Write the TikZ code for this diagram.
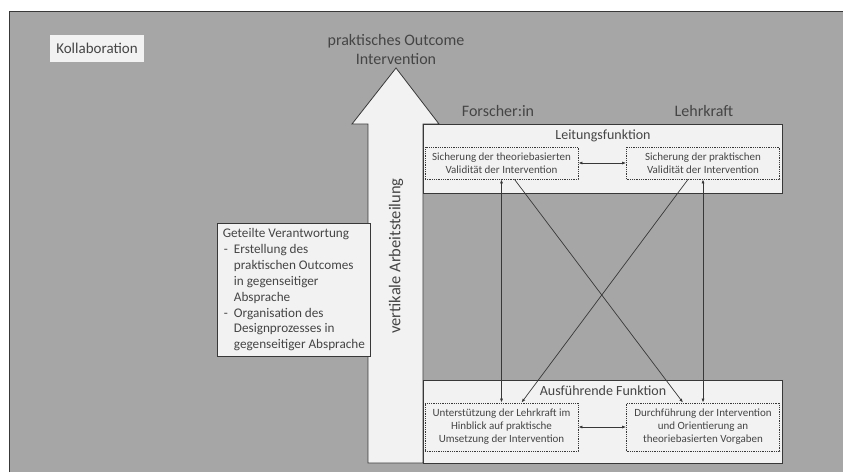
\documentclass[tikz,border=0pt]{standalone}
\usepackage{fontspec}
\setmainfont{Carlito}
\usetikzlibrary{arrows.meta}
\definecolor{bggray}{HTML}{A6A6A6}
\definecolor{boxfill}{HTML}{F2F2F2}
\definecolor{inkgray}{HTML}{454545}
\definecolor{linegray}{HTML}{383838}

\begin{document}
\begin{tikzpicture}[x=1pt,y=-1pt]
            \tikzstyle{every node}=[text=inkgray]
            \tikzstyle{panel}=[draw=linegray, fill=boxfill, line width=0.8pt]
            \tikzstyle{task}=[draw=linegray, densely dotted, line width=0.8pt, minimum width=153pt, inner sep=0pt, align=center, font=\fontsize{11}{12.9}\selectfont]
            \tikzstyle{link}=[draw=linegray, line width=0.7pt, {Latex[length=4pt,width=3pt]}-{Latex[length=4pt,width=3pt]}]
            \tikzstyle{cross}=[draw=linegray, line width=0.7pt, -{Latex[length=4pt,width=3pt]}]
            \tikzstyle{heading}=[font=\fontsize{14}{16}\selectfont]
            \tikzstyle{role}=[font=\fontsize{16}{18}\selectfont]

            \useasboundingbox (0,0) rectangle (843,472);
            \fill[bggray] (9,11) rectangle (843,472);
            \draw[linegray, line width=0.8pt] (9,472) -- (9,11) -- (843,11);

            \node[fill=boxfill, minimum width=94pt, minimum height=27pt, inner sep=0pt, font=\fontsize{15}{17}\selectfont] (collab) at (97,48.5) {Kollaboration};

            \node[align=center, font=\fontsize{16}{19}\selectfont] (outcome) at (396,49.5) {praktisches Outcome\\Intervention};

            % vertikaler Pfeil
            \draw[panel] (368,463) -- (368,124) -- (352,124) -- (396,68) -- (439,124) -- (423,124) -- (423,463) -- cycle;
            \node[rotate=90, font=\fontsize{16.5}{19}\selectfont] (vertical) at (396,256) {vertikale Arbeitsteilung};

            \node[panel, anchor=north west, minimum width=153pt, inner sep=3pt, font=\fontsize{13.2}{15.9}\selectfont] (shared) at (217,223) {%
              \begin{tabular}{@{\hspace{1pt}}l@{\hspace{6pt}}l@{}}
                \multicolumn{2}{@{}l@{}}{Geteilte Verantwortung}\\
                - & Erstellung des\\
                  & praktischen Outcomes\\
                  & in gegenseitiger\\
                  & Absprache\\
                - & Organisation des\\
                  & Designprozesses in\\
                  & gegenseitiger Absprache
              \end{tabular}};

            \node[role] (researcher) at (498,111) {Forscher:in};
            \node[role] (teacher) at (704,111) {Lehrkraft};

            \draw[panel] (423,124) rectangle (782,193);
            \node[heading] (lead) at (603,136) {Leitungsfunktion};
            \node[task, minimum height=32pt] (leadA) at (501.5,163) {Sicherung der theoriebasierten\\Validität der Intervention};
            \node[task, minimum height=32pt] (leadB) at (703,163) {Sicherung der praktischen\\Validität der Intervention};

            \draw[panel] (423,380) rectangle (782,463);
            \node[heading] (exec) at (603,391) {Ausführende Funktion};
            \node[task, minimum height=48pt] (execA) at (501.5,427) {Unterstützung der Lehrkraft im\\Hinblick auf praktische\\Umsetzung der Intervention};
            \node[task, minimum height=48pt] (execB) at (703,427) {Durchführung der Intervention\\und Orientierung an\\theoriebasierten Vorgaben};

            \draw[link] (leadA) -- (leadB);
            \draw[link] (execA) -- (execB);
            \draw[link] (leadA.south) -- (execA.north);
            \draw[link] (leadB.south) -- (execB.north);
            \draw[cross] ([xshift=13pt]leadA.south) -- ([xshift=-20pt]execB.north);
            \draw[cross] ([xshift=-15pt]leadB.south) -- ([xshift=20pt]execA.north);

          \end{tikzpicture}
\end{document}
